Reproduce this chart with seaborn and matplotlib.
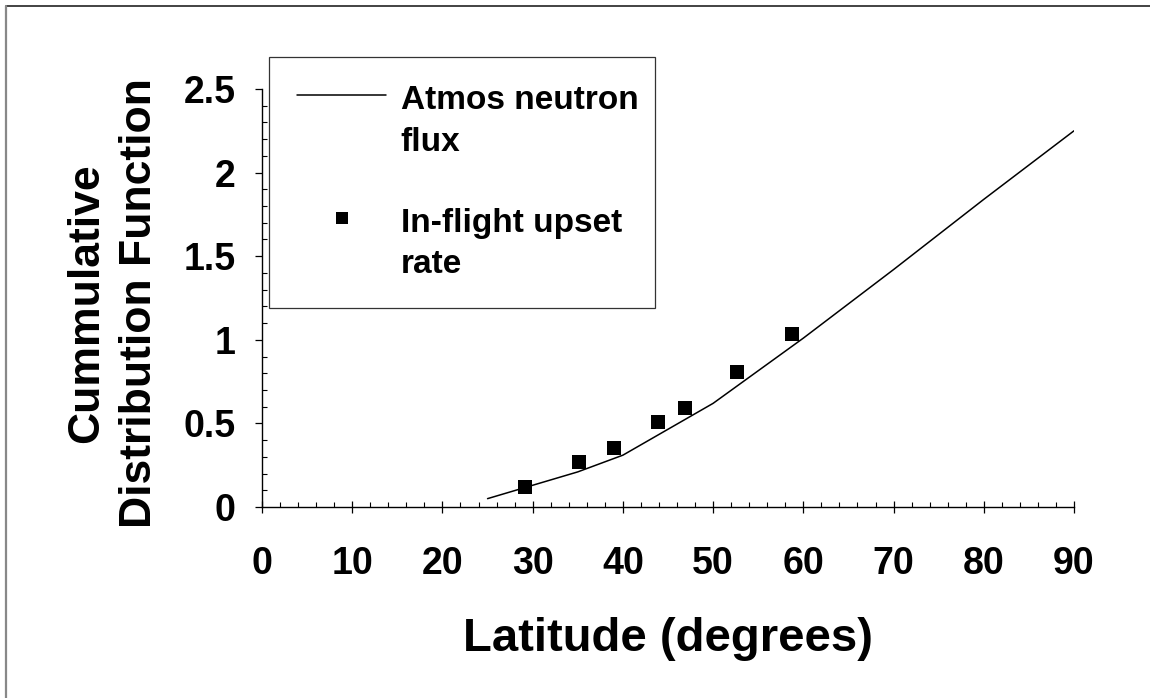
import numpy as np
import matplotlib
matplotlib.use("Agg")
import matplotlib.pyplot as plt
from matplotlib.lines import Line2D
from matplotlib.ticker import MultipleLocator
import seaborn as sns

# Atmospheric neutron flux CDF versus latitude (model curve)
lat_curve = [25, 35, 40, 50, 60, 70, 80, 90]
cdf_curve = [0.05, 0.21, 0.31, 0.62, 1.01, 1.42, 1.84, 2.25]

# Measured in-flight upset rate (normalised CDF)
lat_obs = [29.1, 35.1, 39.0, 43.9, 46.9, 52.7, 58.7]
cdf_obs = [0.12, 0.27, 0.355, 0.51, 0.59, 0.81, 1.035]

x_ticks = [0, 10, 20, 30, 40, 50, 60, 70, 80, 90]
y_ticks = [0, 0.5, 1, 1.5, 2, 2.5]
y_tick_labels = ["0", "0.5", "1", "1.5", "2", "2.5"]

series_names = ["Atmos neutron\nflux", "In-flight upset\nrate"]
x_title = "Latitude (degrees)"
y_title = "Cummulative\nDistribution Function"

sns.set_style("ticks")
plt.rcParams["font.family"] = ["Liberation Sans", "DejaVu Sans"]
plt.rcParams["font.weight"] = "bold"
for key in ("text.color", "axes.labelcolor", "xtick.color", "ytick.color",
            "axes.edgecolor"):
    plt.rcParams[key] = "black"

W, H = 1150, 698
fig = plt.figure(figsize=(W / 100, H / 100), dpi=100)
fig.patch.set_facecolor("white")
ax = fig.add_axes([262 / W, 1 - 507 / H, 812 / W, 418 / H])

sns.lineplot(x=lat_curve, y=cdf_curve, color="black", linewidth=1.1,
             ax=ax, legend=False)
sns.scatterplot(x=lat_obs, y=cdf_obs, marker="s", s=95, color="black",
                linewidth=0, ax=ax, legend=False, zorder=3)

ax.set_xlim(0, 90)
ax.set_ylim(0, 2.5)
ax.set_xticks(x_ticks)
ax.set_xticklabels([str(v) for v in x_ticks])
ax.set_yticks(y_ticks)
ax.set_yticklabels(y_tick_labels)
ax.xaxis.set_minor_locator(MultipleLocator(2))
ax.yaxis.set_minor_locator(MultipleLocator(0.1))

for side in ("top", "right"):
    ax.spines[side].set_visible(False)
for side in ("left", "bottom"):
    ax.spines[side].set_linewidth(1.0)
    ax.spines[side].set_color("black")

ax.tick_params(axis="x", which="major", direction="inout", length=8.4,
               width=0.9, pad=24, labelsize=27, colors="black")
ax.tick_params(axis="x", which="minor", direction="in", length=3.6, width=0.8,
               colors="black")
ax.tick_params(axis="y", which="major", direction="out", length=5,
               width=0.9, pad=14, labelsize=27, colors="black")
ax.tick_params(axis="y", which="minor", direction="in", length=3.6, width=0.8,
               colors="black")
for lab in ax.get_xticklabels() + ax.get_yticklabels():
    lab.set_fontweight("bold")
    lab.set_color("black")

ax.set_xlabel(x_title, fontsize=34, fontweight="bold", va="top",
              color="black")
ax.xaxis.set_label_coords(0.5, -0.262)
ax.set_ylabel(y_title, fontsize=32, fontweight="bold", va="center",
              ha="center", linespacing=1.38, color="black")
ax.yaxis.set_label_coords(-0.183, 0.487)

handles = [
    Line2D([], [], color="black", linewidth=1.1),
    Line2D([], [], color="black", marker="s", linestyle="none",
           markersize=8.2, markeredgewidth=0),
]
leg = ax.legend(handles, series_names,
                loc="upper left",
                bbox_to_anchor=(269 / W, 1 - 300 / H, 386 / W, 243 / H),
                bbox_transform=fig.transFigure, mode="expand",
                borderaxespad=0, borderpad=0.85, handlelength=2.65,
                handletextpad=0.45, labelspacing=1.5, fancybox=False,
                framealpha=1, edgecolor="#333333",
                prop={"family": "Liberation Sans", "weight": "bold",
                      "size": 24})
leg.get_frame().set_linewidth(0.9)
for t in leg.get_texts():
    t.set_linespacing(1.43)
    t.set_color("black")
# put each key next to the first line of its two-line label
for h in leg.legend_handles:
    y = np.asarray(h.get_ydata(), dtype=float)
    h.set_ydata(y + 19)

# thin frame lines along the top and left edges of the figure
fig.add_artist(Line2D([6 / W, 1], [1 - 6 / H, 1 - 6 / H],
                      transform=fig.transFigure, color="#222222", lw=1.2))
fig.add_artist(Line2D([6 / W, 6 / W], [0, 1 - 6 / H],
                      transform=fig.transFigure, color="#888888", lw=1.6))

fig.savefig("out.png", dpi=100, facecolor="white")
